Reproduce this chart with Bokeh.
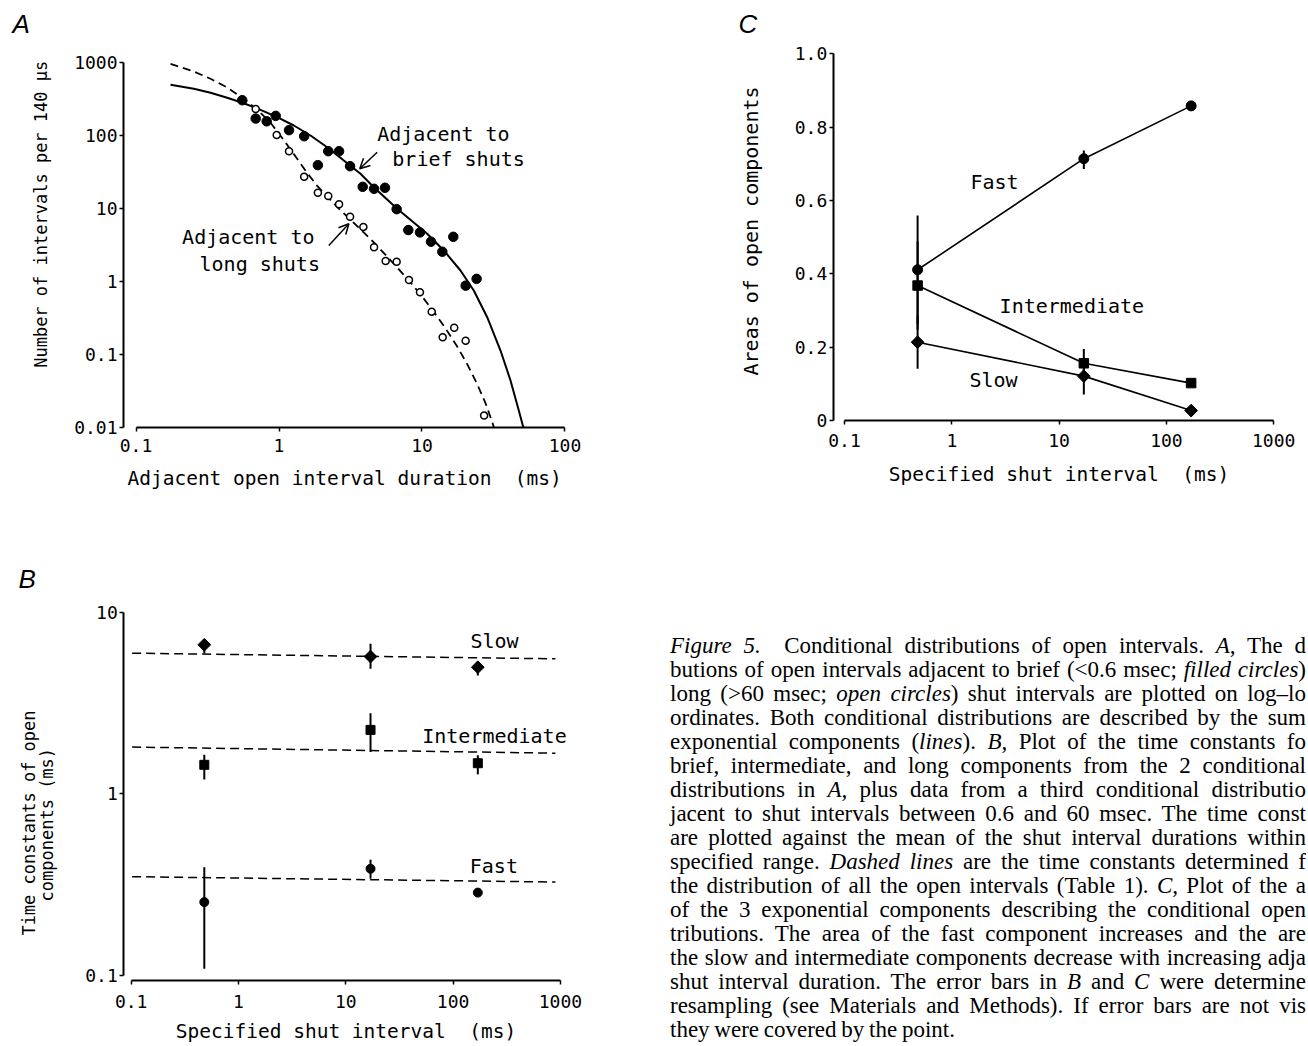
import math
from bokeh.plotting import figure
from bokeh.models import (Range1d, FixedTicker, CustomJSTickFormatter, Label,
                          Arrow, OpenHead, Div)
from bokeh.layouts import row, column
from bokeh.embed import file_html
from bokeh.resources import INLINE

# ---------------- data ----------------
# Panel A: conditional open-interval distributions
a_x_ticks = [0.1, 1, 10, 100]
a_y_ticks = [0.01, 0.1, 1, 10, 100, 1000]
a_brief_x = [0.553, 0.687, 0.82, 0.948, 1.175, 1.50, 1.87, 2.21, 2.63, 3.14, 3.85,
             4.62, 5.51, 6.65, 8.02, 9.68, 11.56, 13.87, 16.55, 20.2, 24.1]
a_brief_y = [303, 170, 156, 185, 118, 97.5, 39.2, 60.8, 60.8, 37.9, 19.8,
             18.6, 19.2, 9.8, 5.07, 4.71, 3.51, 2.56, 4.10, 0.88, 1.09]
a_long_x = [0.687, 0.964, 1.175, 1.50, 1.87, 2.21, 2.63, 3.14, 3.89, 4.62,
            5.57, 6.65, 8.11, 9.68, 11.7, 13.96, 16.8, 20.2, 27.2]
a_long_y = [230, 101, 60.8, 27.1, 16.4, 14.8, 11.4, 7.7, 5.6, 2.94,
            1.91, 1.87, 1.05, 0.714, 0.388, 0.173, 0.234, 0.155, 0.0147]
a_fit_brief_x = [0.1743, 0.2537, 0.3319, 0.4343, 0.5672, 0.7423, 0.9714, 1.2689,
                 1.661, 2.1733, 2.8392, 3.7154, 4.6013, 6.7084, 10.874, 14.208,
                 18.587, 23.024, 28.576, 35.40, 41.586, 47.53, 50.69, 51.51]
a_fit_brief_y = [492.3, 434.1, 382.5, 326.9, 275.8, 223.9, 177.4, 136.6,
                 99.7, 68.96, 45.36, 29.84, 19.56, 9.91, 4.508, 2.664,
                 1.419, 0.7554, 0.3258, 0.1141, 0.04436, 0.01724, 0.01075, 0.0100]
a_fit_long_x = [0.1743, 0.2537, 0.3319, 0.4343, 0.5672, 0.7039, 0.8721, 1.0804,
                1.2689, 1.5749, 1.8501, 2.6067, 3.7154, 4.6013, 5.7096, 8.0855,
                9.7612, 11.787, 14.208, 17.631, 20.709, 24.322, 27.806, 30.967, 31.877]
a_fit_long_y = [953.9, 748.3, 594.9, 452.1, 316.7, 226.1, 148.7, 86.25,
                55.5, 30.69, 20.38, 10.06, 5.21, 3.43, 2.20, 1.038,
                0.668, 0.414, 0.2485, 0.1291, 0.0744, 0.0396, 0.0217, 0.0120, 0.0100]

# Panels B and C: specified shut interval (ms)
shut_x = [0.48, 17.0, 170.0]
bc_x_ticks = [0.1, 1, 10, 100, 1000]

# Panel B: time constants (ms)
b_y_ticks = [0.1, 1, 10]
b_slow = [6.62, 5.70, 4.98]
b_slow_lo = [5.95, 4.88, 4.48]
b_slow_hi = [7.10, 6.70, 5.30]
b_int = [1.445, 2.25, 1.475]
b_int_lo = [1.20, 1.70, 1.28]
b_int_hi = [1.64, 2.78, 1.63]
b_fast = [0.2535, 0.387, 0.286]
b_fast_lo = [0.109, 0.341, 0.286]
b_fast_hi = [0.395, 0.434, 0.286]
b_ref_x = [0.102, 899.0]
b_ref_slow = [5.95, 5.54]
b_ref_int = [1.81, 1.675]
b_ref_fast = [0.350, 0.327]

# Panel C: areas
c_y_ticks = [0, 0.2, 0.4, 0.6, 0.8, 1.0]
c_fast = [0.411, 0.714, 0.858]
c_fast_lo = [0.263, 0.686, 0.858]
c_fast_hi = [0.559, 0.736, 0.858]
c_int = [0.368, 0.156, 0.102]
c_int_lo = [0.248, 0.117, 0.102]
c_int_hi = [0.488, 0.195, 0.102]
c_slow = [0.2135, 0.121, 0.027]
c_slow_lo = [0.141, 0.071, 0.027]
c_slow_hi = [0.286, 0.171, 0.027]

caption_lines = [
    "<i>Figure 5.</i>&ensp; Conditional distributions of open intervals. <i>A,</i> The d",
    "butions of open intervals adjacent to brief (&lt;0.6 msec; <i>filled circles</i>)",
    "long (&gt;60 msec; <i>open circles</i>) shut intervals are plotted on log–lo",
    "ordinates. Both conditional distributions are described by the sum",
    "exponential components (<i>lines</i>). <i>B,</i> Plot of the time constants fo",
    "brief, intermediate, and long components from the 2 conditional",
    "distributions in <i>A,</i> plus data from a third conditional distributio",
    "jacent to shut intervals between 0.6 and 60 msec. The time const",
    "are plotted against the mean of the shut interval durations within",
    "specified range. <i>Dashed lines</i> are the time constants determined f",
    "the distribution of all the open intervals (Table 1). <i>C,</i> Plot of the a",
    "of the 3 exponential components describing the conditional open",
    "tributions. The area of the fast component increases and the are",
    "the slow and intermediate components decrease with increasing adja",
    "shut interval duration. The error bars in <i>B</i> and <i>C</i> were determine",
    "resampling (see Materials and Methods). If error bars are not vis",
    "they were covered by the point.",
]

# ---------------- helpers ----------------
MONO = "DejaVu Sans Mono"
NB = "\u00a0"
LOGFMT = "return String(parseFloat(tick.toPrecision(6)));"


def style(p, xt, yt, xb, yb, xstand, ystand, xfmt, yfmt):
    p.outline_line_color = None
    p.xgrid.visible = False
    p.ygrid.visible = False
    for ax, t, b, st, fm in ((p.xaxis[0], xt, xb, xstand, xfmt),
                             (p.yaxis[0], yt, yb, ystand, yfmt)):
        ax.ticker = FixedTicker(ticks=t, minor_ticks=[])
        ax.formatter = CustomJSTickFormatter(code=fm)
        ax.bounds = b
        ax.axis_line_width = 2
        ax.axis_line_color = "black"
        ax.major_tick_line_width = 1.5
        ax.major_tick_line_color = "black"
        ax.major_tick_in = 0
        ax.major_tick_out = 4
        ax.minor_tick_line_color = None
        ax.major_label_text_font = MONO
        ax.major_label_text_font_size = "18px"
        ax.major_label_text_color = "black"
        ax.major_label_standoff = st
        ax.axis_label_text_font = MONO
        ax.axis_label_text_font_style = "normal"
        ax.axis_label_text_color = "black"


def letter(p, text, offset, standoff):
    p.title.text = text
    p.title.align = "left"
    p.title.offset = offset
    p.title.standoff = standoff
    p.title.text_font = "Liberation Sans"
    p.title.text_font_style = "italic"
    p.title.text_font_size = "26px"
    p.title.text_color = "black"


def dlabel(p, x, y, text, size="20px", align="left", angle=0.0):
    p.add_layout(Label(x=x, y=y, text=text, text_font=MONO, text_font_size=size,
                       text_align=align, text_baseline="middle", angle=angle,
                       text_color="black"))


TOP_H = 512
BOT_H = 532

# ---------------- Panel A ----------------
pa = figure(width=640, height=TOP_H, x_axis_type="log", y_axis_type="log",
            x_range=Range1d(0.01128, 150.8), y_range=Range1d(0.001013, 1752),
            output_backend="svg", toolbar_location=None,
            min_border_left=0, min_border_right=50, min_border_top=44, min_border_bottom=12)
style(pa, a_x_ticks, a_y_ticks, (0.1, 100), (0.01, 1000), 7, 2, LOGFMT, LOGFMT)
pa.xaxis.fixed_location = 0.01
pa.yaxis.fixed_location = 0.0818
pa.yaxis.axis_label = NB * 6 + "Number of intervals per 140 μs"
pa.yaxis.axis_label_text_font_size = "17px"
pa.yaxis.axis_label_standoff = 20
pa.xaxis.axis_label = "Adjacent open interval duration" + NB + " (ms)" + NB
pa.xaxis.axis_label_text_font_size = "19.5px"
pa.xaxis.axis_label_standoff = 12
pa.line(a_fit_brief_x, a_fit_brief_y, line_color="black", line_width=2)
pa.line(a_fit_long_x, a_fit_long_y, line_color="black", line_width=1.8, line_dash="8 5")
pa.scatter(a_long_x, a_long_y, marker="circle", size=7, fill_color="white",
           line_color="black", line_width=1.5)
pa.scatter(a_brief_x, a_brief_y, marker="circle", size=9.5, color="black")
dlabel(pa, 4.86, 105, "Adjacent to")
dlabel(pa, 6.20, 47.9, "brief shuts")
dlabel(pa, 0.210, 4.05, "Adjacent to")
dlabel(pa, 0.278, 1.75, "long shuts")
pa.add_layout(Arrow(end=OpenHead(size=10, line_width=1.5, line_color="black"),
                    x_start=4.86, y_start=58.9, x_end=3.67, y_end=34.9,
                    line_width=1.5, line_color="black"))
pa.add_layout(Arrow(end=OpenHead(size=10, line_width=1.5, line_color="black"),
                    x_start=2.23, y_start=3.12, x_end=3.08, y_end=6.18,
                    line_width=1.5, line_color="black"))
letter(pa, "A", 12, 11)

# ---------------- Panel C ----------------
pc = figure(width=666, height=TOP_H, x_axis_type="log",
            x_range=Range1d(0.00455, 2021), y_range=Range1d(-0.2182, 1.0254),
            output_backend="svg", toolbar_location=None,
            min_border_left=60, min_border_right=0, min_border_top=44, min_border_bottom=12)
style(pc, bc_x_ticks, c_y_ticks, (0.1, 1000), (0, 1), 10, 2, LOGFMT,
      "return tick == 0 ? '0' : tick.toFixed(1);")
pc.xaxis.fixed_location = 0
pc.yaxis.fixed_location = 0.0785
pc.yaxis.axis_label = NB + "Areas of open components"
pc.yaxis.axis_label_text_font_size = "20px"
pc.yaxis.axis_label_standoff = 29
pc.xaxis.axis_label = "Specified shut interval" + NB + " (ms)"
pc.xaxis.axis_label_text_font_size = "19.5px"
pc.xaxis.axis_label_standoff = 12
for ys in (c_fast, c_int, c_slow):
    pc.line(shut_x, ys, line_color="black", line_width=1.6)
for lo, hi in ((c_fast_lo, c_fast_hi), (c_int_lo, c_int_hi), (c_slow_lo, c_slow_hi)):
    pc.segment(x0=shut_x, y0=lo, x1=shut_x, y1=hi, line_color="black", line_width=2)
pc.scatter(shut_x, c_fast, marker="circle", size=10, color="black")
pc.scatter(shut_x, c_int, marker="square", size=9.5, color="black")
pc.scatter(shut_x, c_slow, marker="square", angle=math.pi / 4, size=9, color="black")
dlabel(pc, 1.49, 0.650, "Fast")
dlabel(pc, 2.79, 0.312, "Intermediate")
dlabel(pc, 1.46, 0.111, "Slow")
letter(pc, "C", 38, 11)

# ---------------- Panel B ----------------
pb = figure(width=640, height=BOT_H, x_axis_type="log", y_axis_type="log",
            x_range=Range1d(0.006051, 1908), y_range=Range1d(0.0417, 10.89),
            output_backend="svg", toolbar_location=None,
            min_border_left=0, min_border_right=50, min_border_top=93, min_border_bottom=0)
style(pb, bc_x_ticks, b_y_ticks, (0.1, 1000), (0.1, 10), 11, 2, LOGFMT, LOGFMT)
pb.xaxis.fixed_location = 0.0939
pb.yaxis.fixed_location = 0.0853
pb.yaxis.axis_label = "components (ms)" + NB * 6
pb.yaxis.axis_label_text_font_size = "17px"
pb.yaxis.axis_label_standoff = 25
dlabel(pb, 0.01112, 0.691, "Time constants of open", size="17px", align="center",
       angle=math.pi / 2)
pb.xaxis.axis_label = "Specified shut interval" + NB + " (ms)"
pb.xaxis.axis_label_text_font_size = "19.5px"
pb.xaxis.axis_label_standoff = 8
for ys in (b_ref_slow, b_ref_int, b_ref_fast):
    pb.line(b_ref_x, ys, line_color="black", line_width=1.5, line_dash="9 5")
for lo, hi in ((b_slow_lo, b_slow_hi), (b_int_lo, b_int_hi), (b_fast_lo, b_fast_hi)):
    pb.segment(x0=shut_x, y0=lo, x1=shut_x, y1=hi, line_color="black", line_width=2)
pb.scatter(shut_x, b_slow, marker="square", angle=math.pi / 4, size=9, color="black")
pb.scatter(shut_x, b_int, marker="square", size=9, color="black")
pb.scatter(shut_x, b_fast, marker="circle", size=9, color="black")
dlabel(pb, 145, 6.92, "Slow")
dlabel(pb, 51.5, 2.07, "Intermediate")
dlabel(pb, 143, 0.403, "Fast")
letter(pb, "B", 18, 23)

# ---------------- caption ----------------
n = len(caption_lines)
rows_html = []
for i, ln in enumerate(caption_lines):
    al = "justify" if i < n - 1 else "left"
    rows_html.append(
        f'<div style="width:636px;height:24px;white-space:nowrap;'
        f'text-align:{al};text-align-last:{al};">{ln}</div>')
cap_html = ('<div style="padding:122px 0 0 30px;font-family:\'Liberation Serif\',serif;'
            'font-size:23px;line-height:24px;word-spacing:-1px;color:#000;">'
            + "".join(rows_html) + '</div>')
cap = Div(text=cap_html, width=666, height=BOT_H, margin=0,
          styles={"overflow": "hidden"})

layout = column(row(pa, pc), row(pb, cap))
open("out.html", "w").write(file_html(layout, INLINE))
